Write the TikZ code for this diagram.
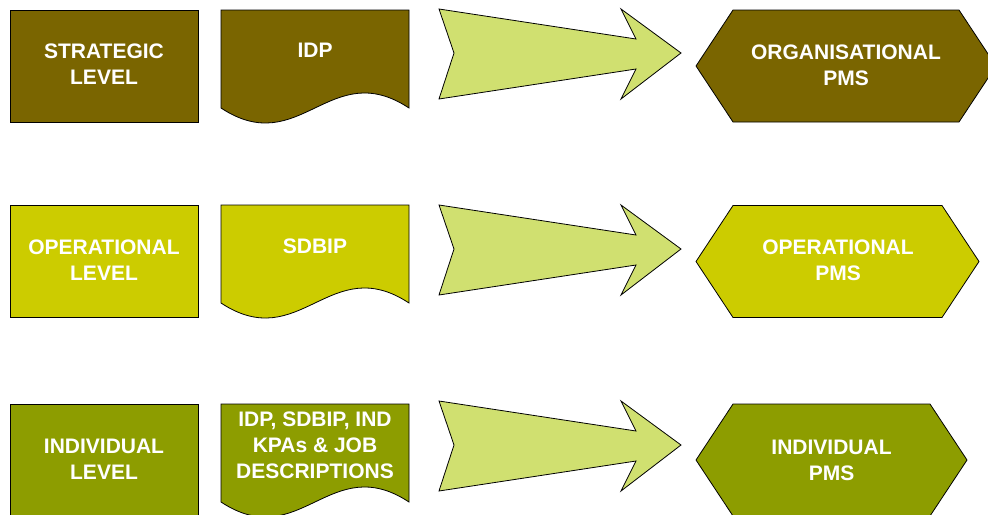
\documentclass[tikz,border=0pt]{standalone}
\usepackage{fontspec}
\setmainfont{Liberation Sans}
\definecolor{lvlone}{RGB}{122,101,0}
\definecolor{lvltwo}{RGB}{204,204,0}
\definecolor{lvlthree}{RGB}{141,157,0}
\definecolor{arrowfill}{RGB}{208,224,112}
\newcommand{\docpath}[2]{%
  \path[shapeline,fill=#2] (221,#1) -- (409,#1) -- (409,{#1+98})
    .. controls (330,{#1+46}) and (300,{#1+150}) .. (221,{#1+98}) -- cycle;}
\newcommand{\arrowpath}[1]{%
  \path[shapeline,fill=arrowfill] (439,#1) -- (636,{#1+30}) -- (621,#1) -- (681,{#1+44})
    -- (621,{#1+90}) -- (636,{#1+60}) -- (439,{#1+90}) -- (454,{#1+44}) -- cycle;}
\newcommand{\hexpath}[4]{%
  \path[shapeline,fill=#4] ({#1-#2},#3) -- ({#1-#2+37},{#3-56}) -- ({#1+#2-37},{#3-56})
    -- ({#1+#2},#3) -- ({#1+#2-37},{#3+56}) -- ({#1-#2+37},{#3+56}) -- cycle;}
\tikzset{
  shapeline/.style={draw=black,line width=0.6pt,line join=miter},
  lbl/.style={text=white,align=center,inner sep=0pt,
    font=\fontsize{15.75pt}{19.5pt}\selectfont\bfseries},
}
\begin{document}
\begin{tikzpicture}[x=0.75pt,y=-0.75pt]
\useasboundingbox (0,0) rectangle (988,514);
\clip (0,0) rectangle (988,514);
% row 1
\path[shapeline,fill=lvlone] (10,10) rectangle (198,122);
\docpath{10}{lvlone}
\arrowpath{9}
\hexpath{846}{150}{66}{lvlone}
\node[lbl] (strat) at (104,64.5) {STRATEGIC\\LEVEL};
\node[lbl] (idp) at (315,50.5) {IDP};
\node[lbl] (orgpms) at (846,65) {ORGANISATIONAL\\PMS};
% row 2
\path[shapeline,fill=lvltwo] (10,205) rectangle (198,317);
\docpath{205}{lvltwo}
\arrowpath{205}
\hexpath{837.5}{141.5}{261.5}{lvltwo}
\node[lbl] (oper) at (104,260) {OPERATIONAL\\LEVEL};
\node[lbl] (sdbip) at (315,246.5) {SDBIP};
\node[lbl] (operpms) at (838,260.5) {OPERATIONAL\\PMS};
% row 3
\path[shapeline,fill=lvlthree] (10,404) rectangle (198,516);
\docpath{404}{lvlthree}
\arrowpath{401}
\hexpath{831.5}{135.5}{460}{lvlthree}
\node[lbl] (indiv) at (104,459.5) {INDIVIDUAL\\LEVEL};
\node[lbl] (inddoc) at (315,445.5) {IDP, SDBIP, IND\\KPAs \& JOB\\DESCRIPTIONS};
\node[lbl] (indpms) at (831.5,460) {INDIVIDUAL\\PMS};
\end{tikzpicture}
\end{document}
